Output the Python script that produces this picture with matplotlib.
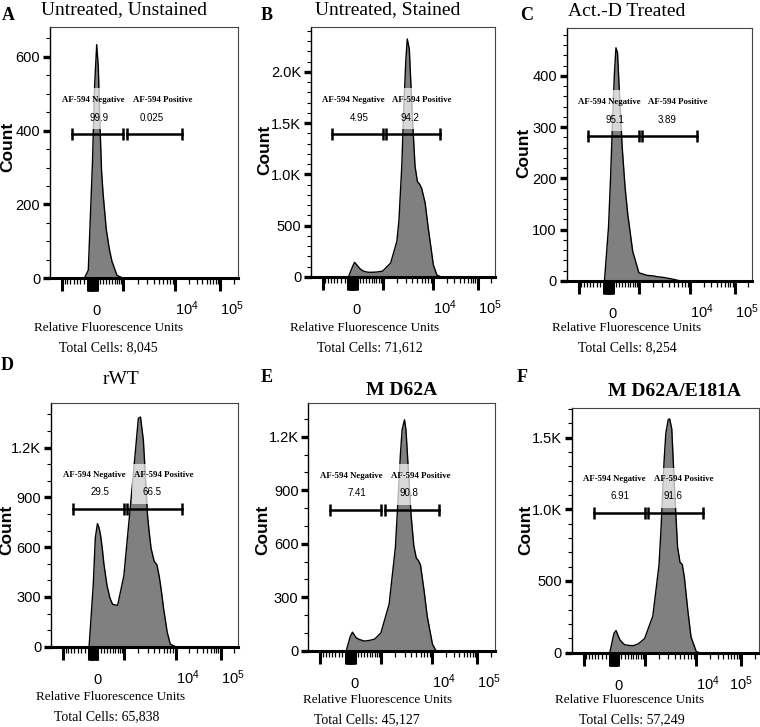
import numpy as np
import matplotlib.pyplot as plt
from matplotlib.patches import Rectangle
from matplotlib.ticker import MultipleLocator, FixedLocator

plt.rcParams['font.family'] = ['Liberation Sans Narrow', 'Liberation Sans', 'DejaVu Sans']
plt.rcParams['mathtext.default'] = 'regular'
SERIF = ['Liberation Serif', 'DejaVu Serif']
SANS = ['Liberation Sans', 'DejaVu Sans']

FL = [-1500, -1000, -700, -500, -300, -200, -100, -50, 0, 50, 100, 150, 200, 300, 400, 500, 700,
      1000, 1500, 2000, 2200, 2500, 2700, 3000, 3200, 3500, 4000, 4500, 5000, 5500, 6000,
      7000, 8000, 10000, 12000, 15000, 20000]

counts_a = [0, 0, 0, 0, 0, 22, 312, 520, 633, 570, 414, 290, 226, 133, 81, 46, 8,
            0, 0, 0, 0, 0, 0, 0, 0, 0, 0, 0, 0, 0, 0, 0, 0, 0, 0, 0, 0]
counts_b = [0, 0, 0, 0, 0, 0, 100, 143, 120, 100, 82, 70, 60, 50, 46, 46, 48,
            57, 137, 347, 547, 1073, 1560, 2116, 2320, 2222, 1573, 1080, 930, 905, 866,
            722, 480, 118, 20, 0, 0]
counts_c = [0, 0, 0, 0, 0, 0, 106, 205, 322, 402, 455, 445, 380, 262, 183, 130, 58,
            16, 11, 10, 9, 8, 8, 7, 7, 6, 5, 4, 3, 2, 1, 0, 0, 0, 0, 0, 0]
counts_d = [0, 0, 0, 0, 0, 0, 370, 657, 742, 716, 667, 590, 499, 370, 294, 255, 249,
            427, 958, 1376, 1384, 1243, 1056, 790, 700, 593, 515, 494, 420, 327, 230,
            88, 15, 0, 0, 0, 0]
counts_e = [0, 0, 0, 0, 0, 0, 82, 104, 85, 73, 67, 63, 60, 54, 56, 58, 65,
            100, 262, 580, 793, 1098, 1240, 1295, 1237, 1042, 757, 587, 520, 505, 480,
            335, 193, 37, 0, 0, 0]
counts_f = [0, 0, 0, 0, 0, 0, 135, 155, 118, 92, 78, 66, 56, 52, 50, 49, 62,
            98, 255, 615, 887, 1335, 1530, 1625, 1630, 1560, 1095, 735, 630, 615, 530,
            290, 110, 8, 0, 0, 0]
COUNTS = [counts_a, counts_b, counts_c, counts_d, counts_e, counts_f]

LETTERS = ['A', 'B', 'C', 'D', 'E', 'F']
TITLES = ['Untreated, Unstained', 'Untreated, Stained', 'Act.-D Treated', 'rWT', 'M D62A', 'M D62A/E181A']
TITLE_BOLD = [False, False, False, False, True, True]
TOTAL_CELLS = ['8,045', '71,612', '8,254', '65,838', '45,127', '57,249']
NEG_PCT = ['99.9', '4.95', '95.1', '29.5', '7.41', '6.91']
POS_PCT = ['0.025', '94.2', '3.89', '66.5', '90.8', '91.6']
NEG_GATE = (-650, 1000)
POS_GATE = (1200, 14000)
GATE_Y = [390, 1390, 282, 830, 790, 975]
Y_TOP = [680, 2440, 493, 1470, 1391, 1704]
Y_TICKS = [[0, 200, 400, 600], [0, 500, 1000, 1500, 2000], [0, 100, 200, 300, 400],
           [0, 300, 600, 900, 1200], [0, 300, 600, 900, 1200], [0, 500, 1000, 1500]]
Y_TICKLABELS = [['0', '200', '400', '600'], ['0', '500', '1.0K', '1.5K', '2.0K'],
                ['0', '100', '200', '300', '400'], ['0', '300', '600', '900', '1.2K'],
                ['0', '300', '600', '900', '1.2K'], ['0', '500', '1.0K', '1.5K']]
Y_MINOR = [50, 100, 20, 100, 100, 100]

# biexponential-like display axis: decade marks placed as on the FlowJo axis
BIEX_W = 704.0
ANCHOR_X = np.array([-1e5, -1e3, 0, 1e3, 1e4, 1e5, 1e7])
ANCHOR_POS = [-0.65, 0.065, 0.248, 0.389, 0.665, 0.905, 1.385]


def biex_fwd(x):
    return np.interp(np.arcsinh(np.asarray(x, dtype=float) / BIEX_W),
                     np.arcsinh(ANCHOR_X / BIEX_W), ANCHOR_POS)


def biex_inv(p):
    return BIEX_W * np.sinh(np.interp(np.asarray(p, dtype=float), ANCHOR_POS,
                                      np.arcsinh(ANCHOR_X / BIEX_W)))


X_MAJOR = [-1000] + list(range(-200, 1, 20)) + [1000, 10000, 100000]
X_MAJOR_LABELS = [''] * 11 + ['0', '', '$10^4$', '$10^5$']
X_MINOR = (list(range(-900, -200, 100)) + list(range(100, 1000, 100)) +
           list(range(2000, 10000, 1000)) + list(range(20000, 100000, 10000)) + [200000])

# layout, in pixels of the 760x727 picture
W, H = 760, 727
AX_BOX = [(50, 27.3, 238.3, 278.3), (311, 26.7, 495, 277), (566.7, 28.3, 752.3, 281),
          (51, 402.7, 238.3, 646.7), (308.3, 402.7, 495, 650.7), (571.7, 408.3, 759, 652.7)]
TITLE_XY = [(124, 10), (388, 10), (627, 11), (121, 379), (402, 390), (674, 391)]
LETTER_XY = [(8, 15), (267, 15), (527, 15), (7, 365), (267, 378), (522, 377)]
COUNT_XY = [(8, 147), (265, 150), (524, 153), (7, 530), (263, 530), (526, 530)]
XLABEL_XY = [(109, 328), (365, 328), (627, 328), (111, 697), (378, 700), (630, 700)]
CELLS_XY = [(108, 348), (370, 348), (627, 348), (107, 717), (367, 720), (632, 720)]


def fpos(xy):
    return xy[0] / W, 1 - xy[1] / H


fig = plt.figure(figsize=(7.6, 7.27), dpi=100)

for i in range(6):
    l, t, r, b = AX_BOX[i]
    ax = fig.add_axes([l / W, 1 - b / H, (r - l) / W, (b - t) / H])
    ax.set_xscale('function', functions=(biex_fwd, biex_inv))
    ax.set_xlim(biex_inv(0.0), biex_inv(1.0))
    ax.set_ylim(0, Y_TOP[i])

    ax.fill_between(FL, COUNTS[i], 0, color='#808080', lw=0, zorder=1)
    ax.plot(FL, COUNTS[i], color='black', lw=1.0, zorder=2)

    # gates
    yt = ax.get_yaxis_transform()
    gy = GATE_Y[i]
    for gate, name, pct, nx, vx in [(NEG_GATE, 'AF-594 Negative', NEG_PCT[i], 0.23, 0.26),
                                     (POS_GATE, 'AF-594 Positive', POS_PCT[i], 0.60, 0.54)]:
        ax.plot(gate, [gy, gy], color='black', lw=1.8, marker='|', ms=9, mew=1.8, zorder=4)
        ax.add_patch(Rectangle((nx - 0.17, gy + 0.02 * Y_TOP[i]), 0.34, 0.165 * Y_TOP[i],
                               transform=yt, facecolor='white', alpha=0.7, lw=0, zorder=3))
        ax.annotate(name, xy=(nx, gy), xycoords=yt, xytext=(0, 24.5), textcoords='offset points',
                    ha='center', va='center', fontsize=6.3, fontweight='bold', family=SERIF, zorder=5)
        ax.annotate(pct, xy=(vx, gy), xycoords=yt, xytext=(0, 12), textcoords='offset points',
                    ha='center', va='center', fontsize=7, zorder=5)

    # axes styling
    ax.spines['bottom'].set_linewidth(2.2)
    ax.spines['left'].set_linewidth(1.0)
    for s in ['top', 'right']:
        ax.spines[s].set_linewidth(0.8)
        ax.spines[s].set_color('#444444')

    ax.set_xticks(X_MAJOR)
    ax.set_xticklabels(X_MAJOR_LABELS)
    ax.xaxis.set_minor_locator(FixedLocator(X_MINOR))
    ax.xaxis.set_minor_formatter(plt.NullFormatter())
    ax.tick_params(axis='x', which='major', length=9.5, width=2.2, pad=17, labelsize=10.5)
    ax.tick_params(axis='x', which='minor', length=4.5, width=0.9)
    for lbl in ax.get_xticklabels():
        lbl.set_va('baseline')
        if lbl.get_text() == '$10^4$' or (lbl.get_text() == '$10^5$' and i != 5):
            lbl.set_ha('left')

    ax.set_yticks(Y_TICKS[i])
    ax.set_yticklabels(Y_TICKLABELS[i])
    ax.yaxis.set_minor_locator(MultipleLocator(Y_MINOR[i]))
    ax.tick_params(axis='y', which='major', length=5, width=2.4, pad=2, labelsize=10.5)
    ax.tick_params(axis='y', which='minor', length=3, width=0.8)

    # panel texts
    fig.text(*fpos(TITLE_XY[i]), TITLES[i], ha='center', va='center', fontsize=14,
             family=SERIF, fontweight='bold' if TITLE_BOLD[i] else 'normal')
    fig.text(*fpos(LETTER_XY[i]), LETTERS[i], ha='center', va='center', fontsize=13,
             family=SERIF, fontweight='bold')
    fig.text(*fpos(COUNT_XY[i]), 'Count', ha='center', va='center', rotation=90,
             fontsize=12.5, family=SANS, fontweight='bold')
    fig.text(*fpos(XLABEL_XY[i]), 'Relative Fluorescence Units', ha='center', va='center',
             fontsize=9.5, family=SERIF)
    fig.text(*fpos(CELLS_XY[i]), 'Total Cells: ' + TOTAL_CELLS[i], ha='center', va='center',
             fontsize=10, family=SERIF)

fig.savefig('out.png', dpi=100)
